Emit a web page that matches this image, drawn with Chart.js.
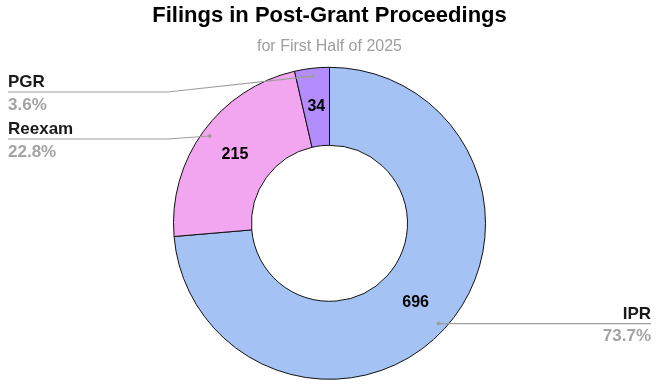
<!DOCTYPE html>
<html>
<head>
<meta charset="utf-8">
<title>Filings in Post-Grant Proceedings</title>
<script src="https://cdn.jsdelivr.net/npm/chart.js@4.4.1/dist/chart.umd.min.js"></script>
<style>
  html, body { margin: 0; padding: 0; background: #fff; }
  #wrap { width: 659px; height: 386px; }
</style>
</head>
<body>
<div id="wrap"><canvas id="filingsChart"></canvas></div>
<script>
// Chart data
const categories = ['IPR', 'Reexam', 'PGR'];
const filings = [696, 215, 34];
const sliceColors = ['#a4c2f4', '#f1a6ef', '#b38dfb'];

const FONT = '"Liberation Sans", Arial, sans-serif';
Chart.defaults.font.family = FONT;

// Draws the values inside the slices and the labels with leader lines outside
const sliceLabels = {
    id: 'sliceLabels',
    afterDatasetsDraw(chart) {
        const ctx = chart.ctx;
        const meta = chart.getDatasetMeta(0);
        const total = filings.reduce((a, b) => a + b, 0);

        ctx.save();
        ctx.font = 'bold 16px ' + FONT;
        ctx.fillStyle = '#000';
        ctx.textAlign = 'center';
        ctx.textBaseline = 'middle';
        meta.data.forEach((arc, i) => {
            const p = arc.getCenterPoint();
            ctx.fillText(String(filings[i]), p.x, p.y);
        });

        // split the slices into left and right side
        let left = [], right = [];
        meta.data.forEach((arc, i) => {
            const mid = (arc.startAngle + arc.endAngle) / 2;
            const r = arc.outerRadius * 0.95;
            const dot = { x: arc.x + Math.cos(mid) * r, y: arc.y + Math.sin(mid) * r };
            (dot.x < arc.x ? left : right).push({ i, dot, arc });
        });

        const minY = 92;
        const drawSide = (items, isLeft) => {
            items.sort((a, b) => a.dot.y - b.dot.y);
            let prev = -Infinity;
            items.forEach(item => {
                const arc = item.arc;
                const lineY = Math.max(item.dot.y, prev + 47, minY);
                prev = lineY;
                const edgeX = isLeft ? 8 : chart.width - 8;
                const bendX = isLeft ? arc.x - arc.outerRadius - 6 : arc.x + arc.outerRadius + 6;

                ctx.strokeStyle = '#9e9e9e';
                ctx.lineWidth = 1.2;
                ctx.beginPath();
                ctx.moveTo(edgeX, lineY);
                ctx.lineTo(bendX, lineY);
                ctx.lineTo(item.dot.x, item.dot.y);
                ctx.stroke();

                ctx.fillStyle = '#9e9e9e';
                ctx.beginPath();
                ctx.arc(item.dot.x, item.dot.y, 2, 0, Math.PI * 2);
                ctx.fill();

                ctx.textAlign = isLeft ? 'left' : 'right';
                ctx.textBaseline = 'alphabetic';
                ctx.font = 'bold 17px ' + FONT;
                ctx.fillStyle = '#1a1a1a';
                ctx.fillText(categories[item.i], edgeX, lineY - 5);
                ctx.fillStyle = '#a3a3a3';
                const pct = (filings[item.i] / total * 100).toFixed(1) + '%';
                ctx.fillText(pct, edgeX, lineY + 17.5);
            });
        };
        drawSide(left, true);
        drawSide(right, false);
        ctx.restore();
    }
};

function initChart() {
    const ctx = document.getElementById('filingsChart').getContext('2d');
    new Chart(ctx, {
        type: 'doughnut',
        data: {
            labels: categories,
            datasets: [{
                data: filings,
                backgroundColor: sliceColors,
                borderColor: '#111',
                borderWidth: 1,
                radius: 156,
                cutout: '50%',
                clip: false
            }]
        },
        options: {
            responsive: true,
            maintainAspectRatio: false,
            animation: false,
            layout: { padding: 0 },
            plugins: {
                legend: { display: false },
                tooltip: { enabled: false },
                title: {
                    display: true,
                    text: 'Filings in Post-Grant Proceedings',
                    color: '#000',
                    font: { size: 22, weight: 'bold' },
                    padding: { top: 3, bottom: 0 }
                },
                subtitle: {
                    display: true,
                    text: 'for First Half of 2025',
                    color: '#9e9e9e',
                    font: { size: 16, weight: 'normal' },
                    padding: { top: 8, bottom: 4 }
                }
            }
        },
        plugins: [sliceLabels]
    });
}

window.onload = initChart;
</script>
</body>
</html>
